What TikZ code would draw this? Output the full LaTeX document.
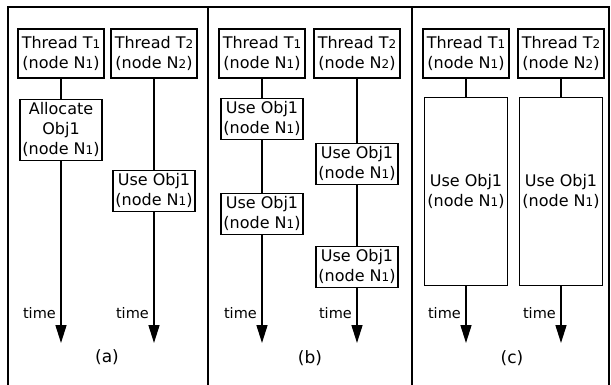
\documentclass[tikz,border=0pt]{standalone}
\usepackage{fontspec}
\setmainfont{DejaVu Sans}
\usetikzlibrary{positioning,arrows.meta}
\newcommand{\idx}[1]{{\fontsize{12}{12}\selectfont #1}}

\begin{document}
\begin{tikzpicture}[x=1pt, y=-1pt]
    % Styles
    \tikzstyle{thread} = [rectangle, draw, line width=1.2pt, align=center, minimum width=86pt, minimum height=49pt, inner sep=2pt, font=\fontsize{16}{20}\selectfont]
    \tikzstyle{task} = [thread, minimum width=82pt, minimum height=41pt]
    \tikzstyle{link} = [line width=1.5pt]
    \tikzstyle{arrow} = [link, ->, >={Triangle[length=18pt, width=11pt]}]
    \tikzstyle{timelbl} = [font=\fontsize{14.5}{16}\selectfont, inner sep=2pt]
    \tikzstyle{caption} = [font=\fontsize{17}{20}\selectfont]

    \useasboundingbox (0,0) rectangle (611,385);

    % Frame
    \draw[link] (8,385) -- (8,7) -- (609,7) -- (609,385);
    \draw[link] (208,7) -- (208,385);
    \draw[link] (412,7) -- (412,385);

    % (a)
    \node[thread] (a1) at (61,53.5) {Thread T\idx{1}\\(node N\idx{1})};
    \node[thread] (a2) at (154,53.5) {Thread T\idx{2}\\(node N\idx{2})};
    \node[task, minimum height=61pt, below=20pt of a1] (alloc) {Allocate\\Obj1\\(node N\idx{1})};
    \node[task, below=91pt of a2] (usea) {Use Obj1\\(node N\idx{1})};
    \coordinate (enda1) at (61,343);
    \coordinate (enda2) at (154,343);
    \draw[link] (a1) -- (alloc);
    \draw[link] (a2) -- (usea);
    \draw[arrow] (alloc) -- (enda1);
    \draw[arrow] (usea) -- (enda2);
    \node[timelbl, above left=22pt and 3pt of enda1] (ta1) {time};
    \node[timelbl, above left=22pt and 3pt of enda2] (ta2) {time};
    \node[caption] (capa) at (107,357) {(a)};

    % (b)
    \node[thread] (b1) at (262,53.5) {Thread T\idx{1}\\(node N\idx{1})};
    \node[thread] (b2) at (357,53.5) {Thread T\idx{2}\\(node N\idx{2})};
    \node[task, below=19pt of b1] (u1) {Use Obj1\\(node N\idx{1})};
    \node[task, below=53pt of u1] (u2) {Use Obj1\\(node N\idx{1})};
    \node[task, below=64pt of b2] (v1) {Use Obj1\\(node N\idx{1})};
    \node[task, below=61pt of v1] (v2) {Use Obj1\\(node N\idx{1})};
    \coordinate (endb1) at (262,343);
    \coordinate (endb2) at (357,343);
    \draw[link] (b1) -- (u1);
    \draw[link] (u1) -- (u2);
    \draw[link] (b2) -- (v1);
    \draw[link] (v1) -- (v2);
    \draw[arrow] (u2) -- (endb1);
    \draw[arrow] (v2) -- (endb2);
    \node[timelbl, above left=22pt and 3pt of endb1] (tb1) {time};
    \node[timelbl, above left=22pt and 3pt of endb2] (tb2) {time};
    \node[caption] (capb) at (310,358) {(b)};

    % (c)
    \node[thread] (c1) at (466,53.5) {Thread T\idx{1}\\(node N\idx{1})};
    \node[thread] (c2) at (561,53.5) {Thread T\idx{2}\\(node N\idx{2})};
    \node[task, minimum width=83pt, minimum height=188pt, below=18pt of c1] (w1) {Use Obj1\\(node N\idx{1})};
    \node[task, minimum width=83pt, minimum height=188pt, below=18pt of c2] (w2) {Use Obj1\\(node N\idx{1})};
    \coordinate (endc1) at (466,343);
    \coordinate (endc2) at (561,343);
    \draw[link] (c1) -- (w1);
    \draw[link] (c2) -- (w2);
    \draw[arrow] (w1) -- (endc1);
    \draw[arrow] (w2) -- (endc2);
    \node[timelbl, above left=22pt and 3pt of endc1] (tc1) {time};
    \node[timelbl, above left=22pt and 3pt of endc2] (tc2) {time};
    \node[caption] (capc) at (512,358) {(c)};
\end{tikzpicture}
\end{document}
